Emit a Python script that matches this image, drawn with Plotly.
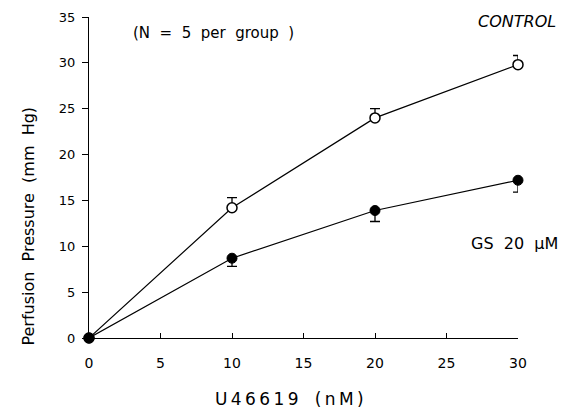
import plotly.graph_objects as go

dose = [0, 10, 20, 30]
control = [0, 14.2, 24.0, 29.8]
control_err = [0, 1.1, 1.0, 1.0]
gs = [0, 8.7, 13.9, 17.2]
gs_err = [0, 0.9, 1.2, 1.3]
x_ticks = [0, 5, 10, 15, 20, 25, 30]
y_ticks = [0, 5, 10, 15, 20, 25, 30, 35]

fig = go.Figure()
fig.add_trace(go.Scatter(
    x=dose, y=control, mode="lines+markers",
    line=dict(color="black", width=1.2),
    marker=dict(symbol="circle", size=10, color="white", line=dict(color="black", width=1.5)),
    error_y=dict(type="data", array=control_err, arrayminus=[0]*4, color="black", thickness=1.3, width=5),
    showlegend=False, cliponaxis=False))
fig.add_trace(go.Scatter(
    x=dose, y=gs, mode="lines+markers",
    line=dict(color="black", width=1.2),
    marker=dict(symbol="circle", size=10, color="black", line=dict(color="black", width=1)),
    error_y=dict(type="data", array=[0]*4, arrayminus=gs_err, color="black", thickness=1.3, width=5),
    showlegend=False, cliponaxis=False))

font = "DejaVu Sans, Verdana, sans-serif"
def note(text, x, y, size, xanchor="left", angle=0):
    fig.add_annotation(x=x, y=y, xref="paper", yref="paper", text=text, showarrow=False,
                       xanchor=xanchor, yanchor="middle", textangle=angle,
                       font=dict(size=size, family=font, color="black"))

ts = "\u2009"
note("(N  =  5  per  group  )", 0.098, 0.95, 15)
note("<i>CONTROL</i>", 1.093, 0.9875, 16, "right")
note("GS  20  μM", 1.098, 0.294, 16, "right")
note(ts.join("U46619") + "   " + ts.join("(nM)"), 0.467, -0.19, 17, "center")
note("Perfusion  Pressure  (mm  Hg)", -0.14, 0.35, 16, "center", -90)

fig.update_layout(
    width=568, height=410,
    margin=dict(l=81, r=58, t=9, b=80, autoexpand=False),
    paper_bgcolor="white", plot_bgcolor="white",
    font=dict(family=font, color="black", size=12),
    xaxis=dict(range=[0, 30], tickvals=x_ticks, showline=True, linecolor="black", linewidth=1.3,
               ticks="inside", ticklen=5, tickcolor="black", showgrid=False, zeroline=False, automargin=False,
               tickfont=dict(size=14), ticklabelstandoff=12),
    yaxis=dict(range=[0, 35], tickvals=y_ticks, showline=True, linecolor="black", linewidth=1.3,
               ticks="outside", ticklen=6, tickcolor="black", showgrid=False, zeroline=False, automargin=False,
               tickfont=dict(size=13), ticklabelstandoff=4),
)
fig.write_html("out.html")
